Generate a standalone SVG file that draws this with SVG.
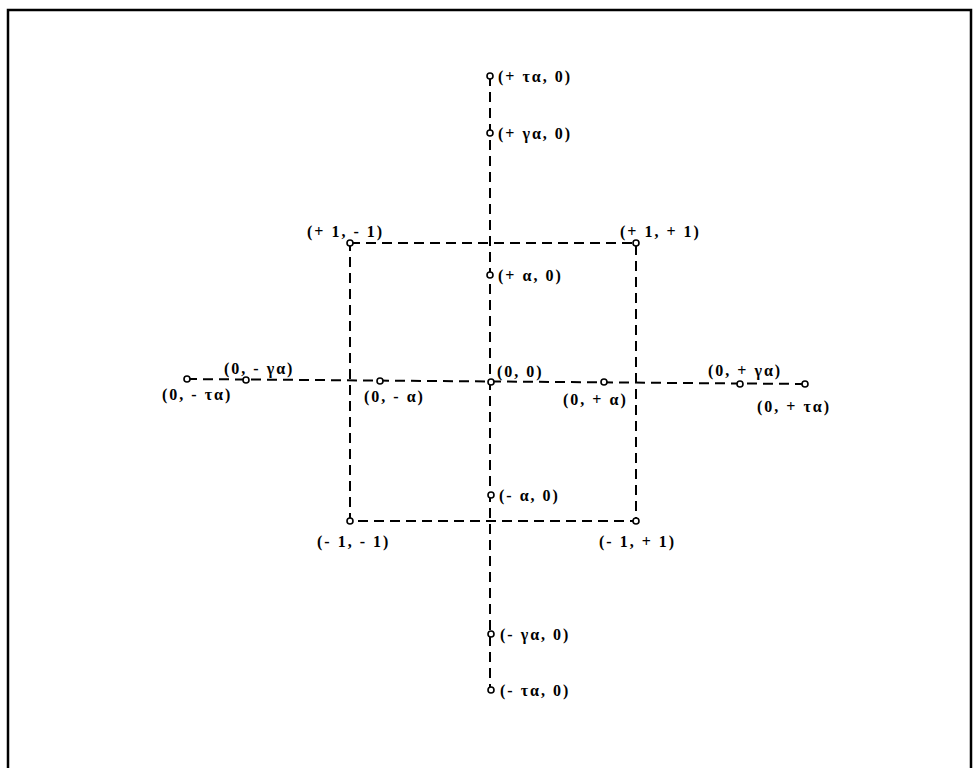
<svg xmlns="http://www.w3.org/2000/svg" width="974" height="768" viewBox="0 0 974 768">
<style>
.ln{stroke:#000;stroke-width:2;fill:none;stroke-dasharray:10 6}
.nd{fill:#fff;stroke:#000;stroke-width:1.6}
text{font-family:"Liberation Serif","DejaVu Serif",serif;font-size:16px;font-weight:bold;letter-spacing:2px;fill:#000}
</style>
<rect width="974" height="768" fill="#fff"/>
<path d="M8,768 V10 H971 V768" stroke="#000" stroke-width="2.5" fill="none"/>
<g id="connectors">
<line class="ln" x1="490" y1="76" x2="490" y2="690"/>
<line class="ln" x1="187" y1="379" x2="805" y2="384"/>
<path class="ln" d="M350,243 H636 V521 H350 Z"/>
</g>
<g id="n_pta"><circle class="nd" cx="490" cy="76" r="3"/><text x="498" y="82">(+ τα, 0)</text></g>
<g id="n_pga"><circle class="nd" cx="490" cy="133" r="3"/><text x="498" y="139">(+ γα, 0)</text></g>
<g id="n_pa"><circle class="nd" cx="490" cy="275" r="3"/><text x="498" y="281">(+ α, 0)</text></g>
<g id="n_p1m1"><circle class="nd" cx="350" cy="243" r="3"/><text x="307" y="237">(+ 1, - 1)</text></g>
<g id="n_p1p1"><circle class="nd" cx="636" cy="243" r="3"/><text x="620" y="237">(+ 1, + 1)</text></g>
<g id="n_mta"><circle class="nd" cx="187" cy="379" r="3"/><text x="162" y="400">(0, - τα)</text></g>
<g id="n_mga"><circle class="nd" cx="246" cy="380" r="3"/><text x="224" y="374">(0, - γα)</text></g>
<g id="n_ma"><circle class="nd" cx="380" cy="381" r="3"/><text x="364" y="402">(0, - α)</text></g>
<g id="n_00"><circle class="nd" cx="491" cy="382" r="3"/><text x="497" y="377">(0, 0)</text></g>
<g id="n_pa2"><circle class="nd" cx="604" cy="382" r="3"/><text x="563" y="405">(0, + α)</text></g>
<g id="n_pga2"><circle class="nd" cx="740" cy="384" r="3"/><text x="708" y="376">(0, + γα)</text></g>
<g id="n_pta2"><circle class="nd" cx="805" cy="384" r="3"/><text x="757" y="412">(0, + τα)</text></g>
<g id="n_ma0"><circle class="nd" cx="491" cy="495" r="3"/><text x="499" y="501">(- α, 0)</text></g>
<g id="n_m1m1"><circle class="nd" cx="350" cy="521" r="3"/><text x="317" y="547">(- 1, - 1)</text></g>
<g id="n_m1p1"><circle class="nd" cx="636" cy="521" r="3"/><text x="599" y="547">(- 1, + 1)</text></g>
<g id="n_mga0"><circle class="nd" cx="491" cy="634" r="3"/><text x="500" y="640">(- γα, 0)</text></g>
<g id="n_mta0"><circle class="nd" cx="491" cy="690" r="3"/><text x="500" y="696">(- τα, 0)</text></g>
</svg>
